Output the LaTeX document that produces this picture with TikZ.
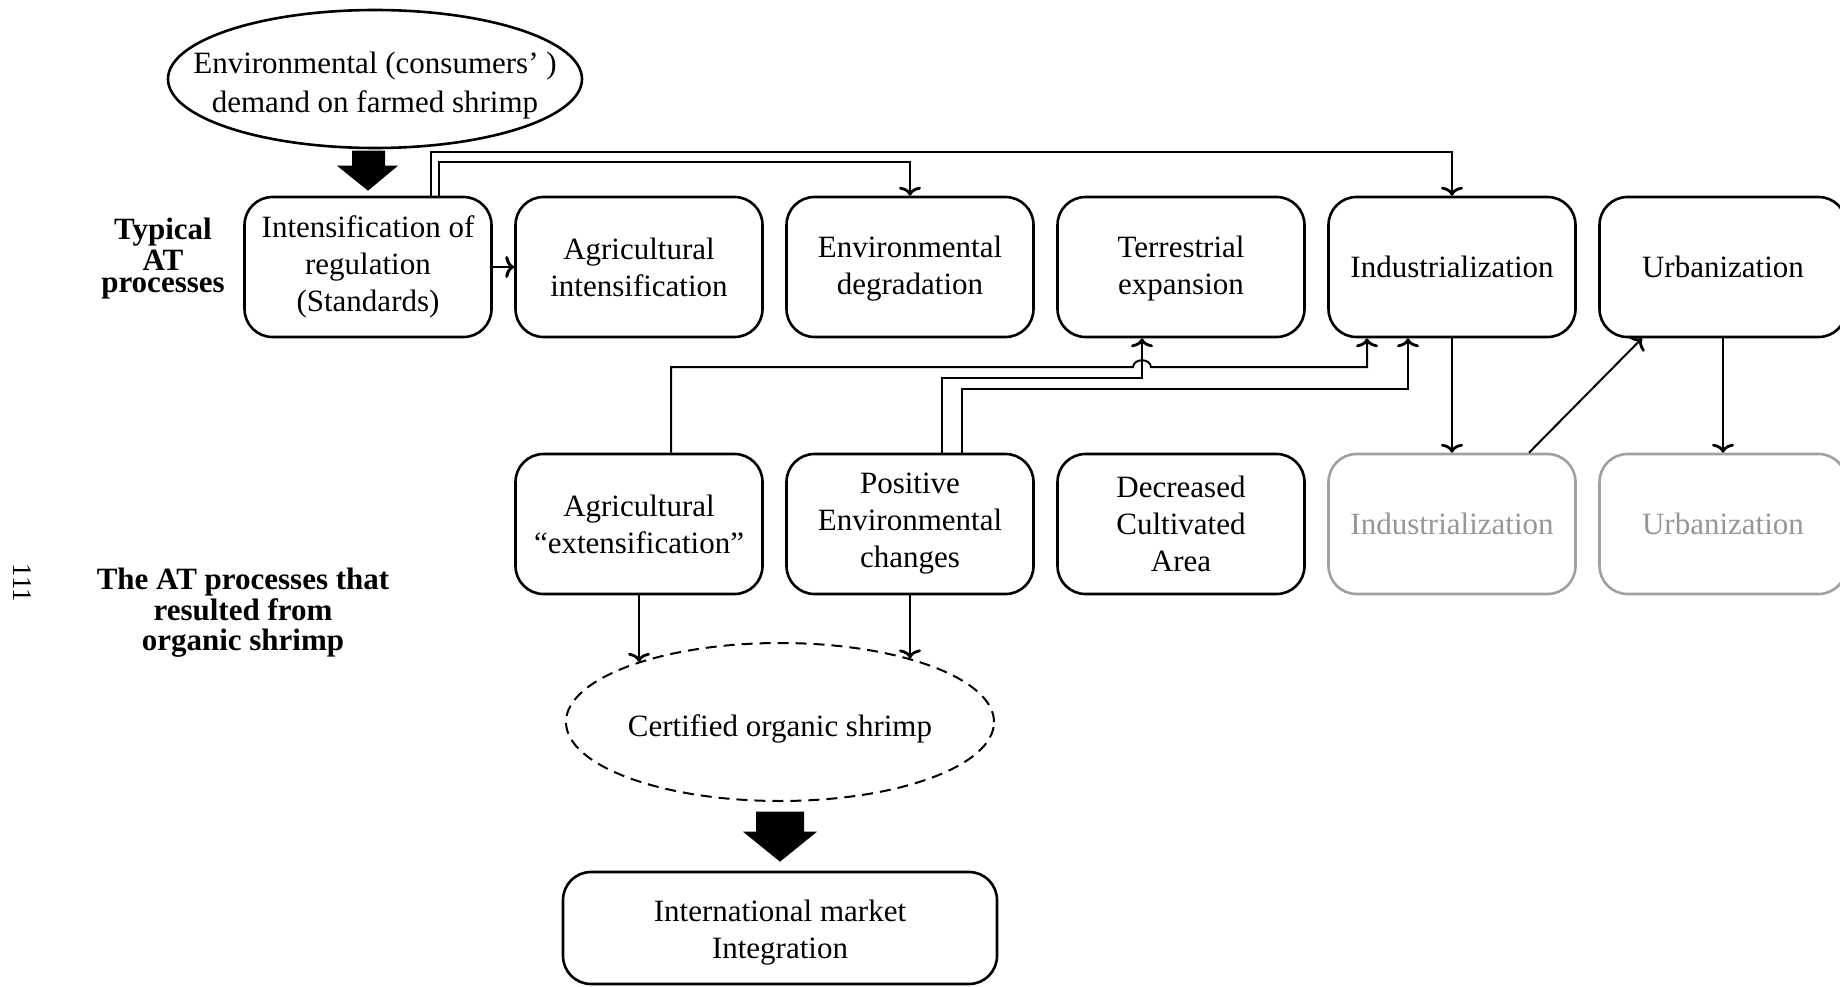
\documentclass[tikz,border=0pt]{standalone}
\usepackage{fontspec}
\setmainfont{Liberation Serif}
\usetikzlibrary{shapes.geometric,arrows.meta,calc}
\definecolor{faded}{RGB}{150,150,150}
\definecolor{fadedline}{RGB}{160,160,160}
\begin{document}
\begin{tikzpicture}[x=1pt,y=-1pt,
  every node/.style={font=\fontsize{31}{37}\selectfont, align=center, inner sep=0pt},
  procbox/.style={draw, line width=2.6pt, rounded corners=28pt,
    minimum width=247pt, minimum height=140pt},
  fadedbox/.style={procbox, draw=fadedline, text=faded},
  conn/.style={line width=2pt, -{To[length=9pt,width=22pt,line width=2.8pt]}},
  boldconn/.style={line width=2.6pt, -{To[length=9pt,width=22pt,line width=3pt]}},
  blockarrow/.style={fill=black}
]
\useasboundingbox (0,0) rectangle (1840,987);

% row labels and page number
\node[font=\bfseries\fontsize{31}{31}\selectfont] (typlab) at (163,259)
  {Typical\\AT\\[-9pt]processes};
\node[font=\bfseries\fontsize{31}{30.5}\selectfont] (orglab) at (243,613)
  {The AT processes that\\resulted from\\organic shrimp};
\node[rotate=-90, font=\fontsize{27}{27}\selectfont] (pagenum) at (22,583) {111};

% driver
\node[draw, ellipse, line width=2.6pt, minimum width=414pt, minimum height=138pt,
  inner xsep=-60pt, inner ysep=0pt, font=\fontsize{31}{39}\selectfont] (demand) at (375,79)
  {\rule{0pt}{35pt}Environmental (consumers’ )\\demand on farmed shrimp};

% typical processes
\node[procbox] (reg)    at (368,267)  {Intensification of\\regulation\\(Standards)};
\node[procbox] (agint)  at (639,267)  {Agricultural\\intensification};
\node[procbox] (envdeg) at (910,267)  {\rule{0pt}{25pt}Environmental\\degradation};
\node[procbox] (terr)   at (1181,267) {\rule{0pt}{25pt}Terrestrial\\expansion};
\node[procbox] (ind)    at (1452,267) {Industrialization};
\node[procbox] (urb)    at (1723,267) {Urbanization};

% processes resulting from organic shrimp
\node[procbox] (ext)    at (639,524)  {Agricultural\\“extensification”};
\node[procbox] (posenv) at (910,524)  {Positive\\Environmental\\changes};
\node[procbox] (decr)   at (1181,524) {Decreased\\Cultivated\\Area};
\node[fadedbox] (indg)  at (1452,524) {Industrialization};
\node[fadedbox] (urbg)  at (1723,524) {Urbanization};

% certification and market
\node[draw, ellipse, line width=2pt, dash pattern=on 11pt off 7pt,
  minimum width=428pt, minimum height=158pt, inner xsep=-20pt] (cert) at (780,722)
  {\rule{0pt}{35pt}Certified organic shrimp};
\node[procbox, minimum width=434pt, minimum height=112pt] (market) at (780,928)
  {\rule{0pt}{31pt}International market\\Integration};

% block arrows
\fill[blockarrow] ($(reg.north)+(0,-5)$) -- ++(30,-25) -- ++(-13,0) -- ++(0,-15)
  -- ++(-33,0) -- ++(0,15) -- ++(-15,0) -- cycle;
\fill[blockarrow] ($(market.north)+(0,-9)$) -- ++(37,-30) -- ++(-13,0) -- ++(0,-20)
  -- ++(-48,0) -- ++(0,20) -- ++(-13,0) -- cycle;

% connectors of the top row
\draw[boldconn] (reg.east) -- (agint.west);
\draw[conn] (reg.north -| 431,0) -- (431,152) -| (ind.north);
\draw[conn] (reg.north -| 439,0) -- (439,162) -| (envdeg.north);

% feedback from the lower row
\draw[conn] (ext.north -| 671,0) -- (671,367) -- (1133,367)
  .. controls (1134,358) and (1150,358) .. (1151,367) -- (1367,367)
  -- (ind.south -| 1367,0);
\draw[conn] (posenv.north -| 942,0) -- (942,378) -| (terr.south -| 1142,0);
\draw[conn] (posenv.north -| 962,0) -- (962,389) -| (ind.south -| 1408,0);

\draw[conn] (ind.south) -- (indg.north);
\draw[conn] (indg.north -| 1529,0) -- (urb.south -| 1642,0);
\draw[conn] (urb.south) -- (urbg.north);

% into certification
\draw[conn] (ext.south) -- (ext.south |- cert.157);
\draw[conn] (posenv.south) -- (posenv.south |- cert.26);
\end{tikzpicture}
\end{document}
